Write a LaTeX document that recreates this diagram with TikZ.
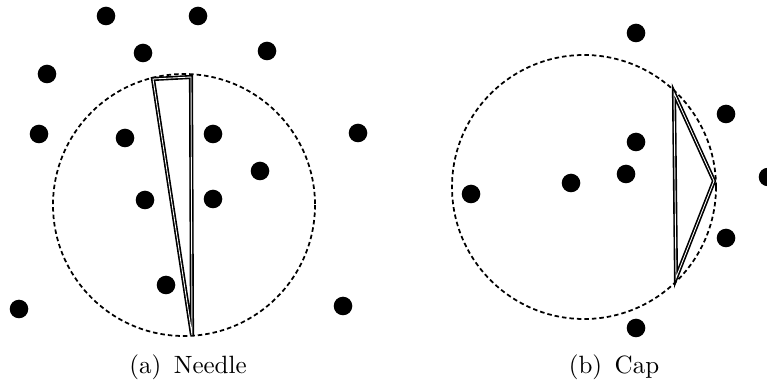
\documentclass[tikz,border=0pt]{standalone}
\usetikzlibrary{calc}
\tikzset{
	site/.style={fill=black},
	ball/.style={dash pattern=on 1.8pt off 1.2pt, line width=0.7pt},
	simplex/.style={double, double distance=0.35pt, line width=0.65pt, line join=miter}
}
\tikzset{
	caption/.style={font=\normalsize, anchor=base, inner sep=0pt}
}

\begin{document}
\begin{tikzpicture}[x=0.4pt, y=-0.4pt]
      \useasboundingbox (0,0) rectangle (767,385);
      % left panel: long thin triangle in the empty ball
      \foreach \p in {(106,16),(198,16),(143,53),(267,51),(47,74),(39,134),
                      (125,138),(213,134),(358,133),(260,171),(145,200),
                      (213,199),(166,285),(19,309),(343,306)}
        \fill[site] \p circle (9.3);
      \draw[ball] (184,205) circle (131);
      \coordinate (na) at (153,79);
      \coordinate (nb) at (191,77);
      \coordinate (nc) at (192,335);
      \draw[simplex] (na) -- (nb) -- (nc) -- cycle;
      \node[caption] (capa) at (188,374) {(a)\enskip Needle};
      % right panel: flat triangle near the boundary
      \foreach \p in {(636,33),(726,114),(636,142),(626,174),(571,183),
                      (471,194),(768,177),(726,238),(636,328)}
        \fill[site] \p circle (9.3);
      \draw[ball] (584,187) circle (132);
      \coordinate (ca) at (674,93);
      \coordinate (cb) at (714,181);
      \coordinate (cc) at (676,278);
      \draw[simplex] (ca) -- (cb) -- (cc) -- cycle;
      \node[caption] (capb) at (614,374) {(b)\enskip Cap};
    \end{tikzpicture}
\end{document}
